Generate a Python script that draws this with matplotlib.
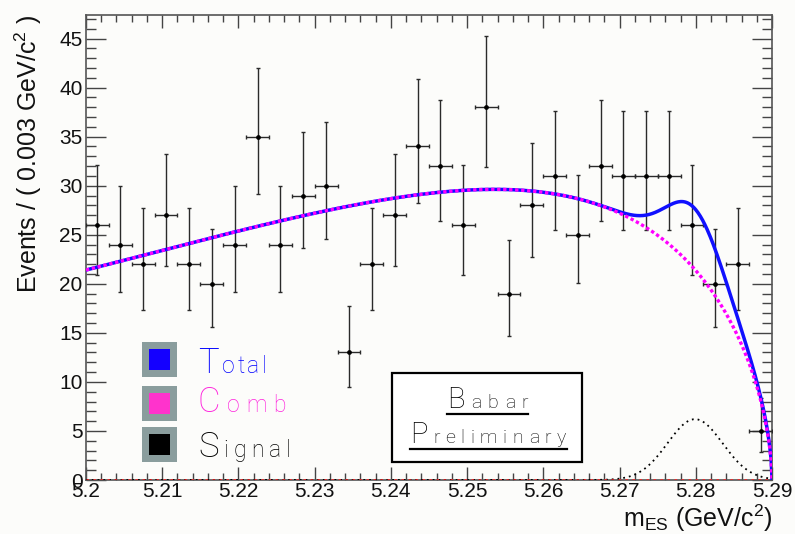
import numpy as np
import matplotlib
matplotlib.use("Agg")
import matplotlib.pyplot as plt
from matplotlib.patches import Rectangle
from matplotlib.lines import Line2D
from matplotlib.transforms import IdentityTransform

# ---- data: m_ES histogram (30 bins of 0.003 GeV/c^2 from 5.20) ----
bin_lo = 5.20
bin_width = 0.003
counts = [26, 24, 22, 27, 22, 20, 24, 35, 24, 29,
          30, 13, 22, 27, 34, 32, 26, 38, 19, 28,
          31, 25, 32, 31, 31, 31, 26, 20, 22, 5]
xtick_labels = ["5.2", "5.21", "5.22", "5.23", "5.24",
                "5.25", "5.26", "5.27", "5.28", "5.29"]
ytick_labels = ["0", "5", "10", "15", "20", "25", "30", "35", "40", "45"]

# ---- fitted model parameters ----
argus_m0 = 5.29      # kinematic endpoint
argus_c = -41.8      # ARGUS shape
argus_p = 0.58       # ARGUS power
argus_norm = 120.4   # combinatoric normalisation
sig_mean = 5.2799
sig_sigma = 0.0036
sig_peak = 6.2

W, H = 795, 534
plt.rcParams["font.family"] = ["Liberation Sans", "DejaVu Sans"]
plt.rcParams["mathtext.fontset"] = "custom"
plt.rcParams["mathtext.rm"] = "Liberation Sans"
plt.rcParams["mathtext.it"] = "Liberation Sans:italic"

bg = "#fcfcfa"
fig = plt.figure(figsize=(W / 100, H / 100), dpi=100, facecolor=bg)
ax = fig.add_axes([86 / W, 1 - 480 / H, (772 - 86) / W, (480 - 15) / H])
ax.set_facecolor(bg)

# Poisson (Garwood) intervals for the bin contents
n = np.array(counts, dtype=float)
centers = bin_lo + bin_width * (np.arange(len(counts)) + 0.5)
lo = n * (1 - 1 / (9 * n) - 1 / (3 * np.sqrt(n))) ** 3
hi = (n + 1) * (1 - 1 / (9 * (n + 1)) + 1 / (3 * np.sqrt(n + 1))) ** 3

# model curves
m = np.linspace(bin_lo, argus_m0, 900)
u = np.clip(1 - (m / argus_m0) ** 2, 0, None)
comb = argus_norm * m * u ** argus_p * np.exp(argus_c * u)
signal = sig_peak * np.exp(-0.5 * ((m - sig_mean) / sig_sigma) ** 2)
peaking = np.zeros_like(m)
total = comb + signal

ax.errorbar(centers, n, xerr=bin_width / 2, yerr=[n - lo, hi - n],
            fmt="o", ms=2.4, color="black", ecolor="#2a2a2a",
            elinewidth=1.0, capsize=1.6, capthick=1.0, zorder=3)
ax.plot(m, signal, color="black", lw=1.3, ls=(0, (1, 2.2)), zorder=4)
ax.plot(m, peaking, color="#ff2020", lw=1.8, ls=(0, (1, 1.8)), zorder=4)
ax.plot(m, total, color="#1010ff", lw=2.5, zorder=5)
ax.plot(m, comb, color="#ff00ff", lw=2.4, ls=(0, (1, 0.8)), zorder=6)

ax.set_xlim(bin_lo, argus_m0)
ax.set_ylim(0, 47.4)
ax.set_xticks(np.arange(10) * 0.01 + bin_lo)
ax.set_xticklabels(xtick_labels)
ax.set_xticks(np.arange(46) * 0.002 + bin_lo, minor=True)
ax.set_yticks(np.arange(10) * 5)
ax.set_yticklabels(ytick_labels)
ax.set_yticks(np.arange(48), minor=True)

ax.tick_params(axis="both", which="both", direction="in", top=True,
               right=True, colors="#444444", labelcolor="#111111",
               labelsize=15, width=1.0)
ax.tick_params(axis="y", which="major", length=14.4, pad=2.5)
ax.tick_params(axis="y", which="minor", length=7.2)
ax.tick_params(axis="x", which="major", length=9.4, pad=1.5)
ax.tick_params(axis="x", which="minor", length=5.0)
for s in ax.spines.values():
    s.set_color("#555555")
    s.set_linewidth(1.2)

ax.set_ylabel(r"Events / ( 0.003 GeV/c$^{\mathrm{2}}$ )", fontsize=18,
              loc="top", color="#111111")
ax.yaxis.set_label_coords(-0.061, 1.0)
xl = ax.set_xlabel(r"m$_{\mathrm{ES}}$ (GeV/c$^{\mathrm{2}}$)", fontsize=18,
                   color="#111111")
ax.xaxis.set_label_coords(1.0, -0.1)
xl.set_ha("right")
xl.set_va("baseline")

ident = IdentityTransform()
renderer = fig.canvas.get_renderer()


def box(x0, y0, x1, y1, **kw):
    r = Rectangle((x0, H - y1), x1 - x0, y1 - y0, transform=ident, **kw)
    fig.add_artist(r)


def spaced_word(word, x0, x_end, base, big, small, color, weight="light"):
    """First letter large, remaining letters small, spread over [x0, x_end]."""
    kw = dict(color=color, ha="left", va="baseline", transform=ident,
              fontfamily=["Roboto", "DejaVu Sans"], fontweight=weight)
    arts = []
    for i, ch in enumerate(word):
        t = fig.text(0, H - base, ch, fontsize=big if i == 0 else small, **kw)
        arts.append((t, t.get_window_extent(renderer).width))
    natural = sum(w for _, w in arts)
    gap = (x_end - x0 - natural) / max(len(word) - 1, 1)
    x = x0
    for t, w in arts:
        t.set_x(x)
        x += w + gap


# legend
legend_rows = [("Total", "#1400ff", "#0000ff", 342, 373, 267),
               ("Comb", "#ff33cc", "#ff22dd", 386, 412, 286),
               ("Signal", "black", "#000000", 427, 457, 291)]
for label, sq_col, txt_col, ytop, base, xend in legend_rows:
    box(142, ytop, 177, ytop + 35, facecolor="#8a9d9d", edgecolor="none")
    box(149, ytop + 7, 170, ytop + 28, facecolor=sq_col, edgecolor="none")
    spaced_word(label, 198, xend, base, 25, 16.5, txt_col)

# BaBar preliminary stamp
box(392, 373, 582, 462, facecolor="white", edgecolor="black", lw=1.6)
spaced_word("Babar", 447, 528, 408, 21, 14, "#000000")
spaced_word("Preliminary", 410, 566, 443, 21, 14, "#000000")
for x0, x1, yy in [(447, 528, 414), (410, 567, 448.5)]:
    fig.add_artist(Line2D([x0, x1], [H - yy, H - yy], transform=ident,
                          color="black", lw=1.6))

fig.savefig("out.png", dpi=100, facecolor=bg)
